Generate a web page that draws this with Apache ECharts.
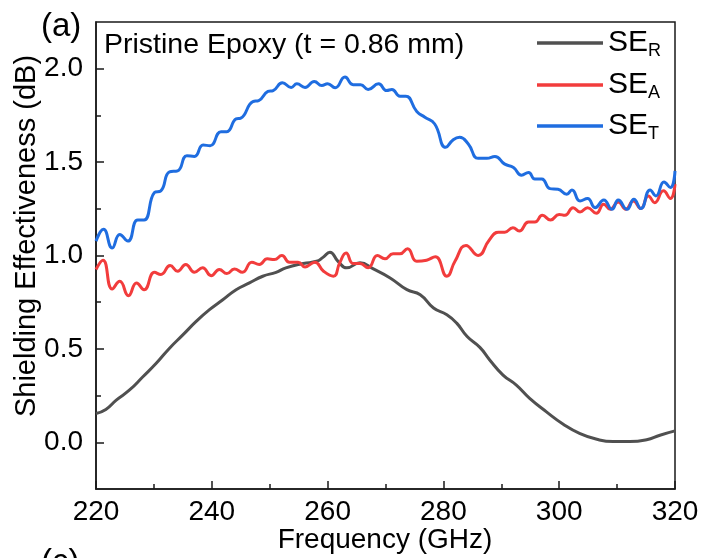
<!DOCTYPE html>
<html>
<head>
<meta charset="utf-8">
<script src="https://cdn.jsdelivr.net/npm/echarts@6/dist/echarts.min.js"></script>
<style>
html,body{margin:0;padding:0;background:#fff;}
#chart{width:702px;height:558px;}
</style>
</head>
<body>
<div id="chart"></div>
<script>
// ---- data ----
const freqR = [220,221.7,223.5,225.8,228.1,230.4,232.7,235,237.3,239.6,241.9,244.2,246.5,248.8,251.1,252.8,255.8,258.1,259.2,260.4,261.8,263.3,265.6,267.9,270.8,273.7,276,278.3,280.6,282.3,284.1,286.3,288,290.3,292.6,294.9,297.8,300.7,303.6,306.5,309.3,312.2,315.1,317.4,320];
const seR = [0.154,0.176,0.226,0.280,0.351,0.423,0.504,0.575,0.647,0.710,0.763,0.817,0.853,0.889,0.910,0.934,0.957,0.969,0.99,1.018,0.969,0.934,0.961,0.928,0.880,0.817,0.790,0.719,0.683,0.638,0.566,0.508,0.441,0.360,0.306,0.235,0.163,0.097,0.047,0.016,0.004,0.004,0.014,0.038,0.061];

const freqA = [220,221.2,222.8,224.1,225.6,227,228.3,230.1,231.2,232.8,234.1,235.5,237,238.4,239.9,241.3,242.6,243.9,245.3,246.9,248.2,249.6,250.8,252.1,253.4,254.9,256.1,257.8,259.3,261,262.1,263.2,264.4,265.6,267,268.6,269.9,271.3,272.5,273.8,275.4,277.1,278.6,280.6,282,283.9,286,287.9,289.5,290.6,292,293.1,294.7,295.8,297.1,298.5,300,301,302.4,303.6,304.9,306.4,307.7,308.8,310.2,311.5,312.8,314.1,315.4,316.5,318,319.2,320];
const seA = [0.925,0.975,0.821,0.862,0.785,0.853,0.817,0.910,0.898,0.946,0.916,0.952,0.910,0.934,0.892,0.925,0.903,0.928,0.910,0.964,0.952,0.982,0.978,1.0,0.964,0.964,0.939,0.964,0.916,0.889,0.961,1.014,0.957,0.957,0.934,1.0,0.982,1.009,1.009,1.036,0.969,0.975,0.993,0.889,0.969,1.054,1.0,1.082,1.125,1.125,1.149,1.131,1.179,1.179,1.215,1.190,1.220,1.215,1.256,1.233,1.256,1.226,1.274,1.247,1.287,1.247,1.292,1.251,1.319,1.283,1.346,1.305,1.382];

const freqT = [220,221.3,222.8,224.1,225.5,227.2,228.3,230.1,231.2,232.7,234.1,235.7,237,238.5,239.7,241.6,242.6,244.2,245,247.1,248.1,249.7,250.6,252.2,253.7,254.7,256.1,257.7,259,260,261.3,263,264.4,265.7,267,268.8,270.2,271.1,272.5,273.5,275.4,276.8,278.5,280.4,281.7,282.8,284.3,286,287.5,288.9,290.6,292.1,293.5,294.7,295.8,297,298.4,299.8,301.3,302.2,303.6,304.9,306.2,307.7,309.1,310.2,311.7,312.9,314.1,315.7,316.7,318.1,319.2,320];
const seT = [1.077,1.14,1.04,1.113,1.077,1.19,1.19,1.337,1.346,1.448,1.453,1.534,1.530,1.591,1.588,1.663,1.663,1.731,1.735,1.824,1.829,1.878,1.883,1.925,1.90,1.919,1.90,1.932,1.910,1.919,1.898,1.955,1.914,1.914,1.889,1.919,1.883,1.889,1.853,1.853,1.771,1.740,1.704,1.579,1.620,1.633,1.597,1.520,1.52,1.530,1.489,1.471,1.430,1.444,1.409,1.41,1.358,1.355,1.328,1.351,1.292,1.305,1.256,1.297,1.247,1.297,1.247,1.301,1.251,1.351,1.319,1.394,1.364,1.453];

const seriesNames = ['SE_R','SE_A','SE_T'];
const seriesColors = ['#505050','#f23c3c','#1f6de0'];
const xTicks = {min:220, max:320, step:20};
const yTicks = {min:0, max:2, step:0.5};

const FONT = '"Liberation Sans", Arial, sans-serif';
const zip = (xs, ys) => xs.map((x,i)=>[x, ys[i]]);
const seriesData = [zip(freqR,seR), zip(freqA,seA), zip(freqT,seT)];

const chart = echarts.init(document.getElementById('chart'), null, {renderer:'canvas'});
const legendTops = [28, 70, 111];

const option = {
  animation:false,
  backgroundColor:'#fff',
  textStyle:{fontFamily:FONT},
  grid:[
    {left:96, right:27, top:22, bottom:69, show:true, borderColor:'#1a1a1a', borderWidth:1.5, backgroundColor:'transparent'},
    {left:96, right:27, top:68.7, bottom:115.7}
  ],
  xAxis:[
    {type:'value', gridIndex:0, min:xTicks.min, max:xTicks.max, interval:xTicks.step,
     axisLine:{show:true, onZero:false, lineStyle:{color:'#1a1a1a', width:1.5}},
     axisTick:{show:true, inside:true, length:8, lineStyle:{color:'#1a1a1a', width:1.5}},
     minorTick:{show:true, splitNumber:2, length:5, lineStyle:{color:'#1a1a1a', width:1.5}},
     axisLabel:{fontSize:28, color:'#000', margin:9, fontFamily:FONT},
     splitLine:{show:false}},
    {type:'value', gridIndex:1, min:xTicks.min, max:xTicks.max, show:false}
  ],
  yAxis:[
    {type:'value', gridIndex:0, min:-0.25, max:2.25,
     axisLine:{show:true, onZero:false, lineStyle:{color:'#1a1a1a', width:1.5}},
     axisTick:{show:false}, axisLabel:{show:false}, splitLine:{show:false}},
    {type:'value', gridIndex:1, min:yTicks.min, max:yTicks.max, interval:yTicks.step,
     axisLine:{show:false, onZero:false},
     axisTick:{show:true, inside:true, length:8, lineStyle:{color:'#1a1a1a', width:1.5}},
     minorTick:{show:true, splitNumber:2, length:5, lineStyle:{color:'#1a1a1a', width:1.5}},
     axisLabel:{fontSize:28, color:'#000', margin:13, fontFamily:FONT, formatter:v=>v.toFixed(1)},
     splitLine:{show:false}}
  ],
  legend: seriesNames.map((n,i)=>({
    data:[{name:n, icon:'rect'}], orient:'vertical', left:537, top:legendTops[i], padding:0,
    itemWidth:66, itemHeight:3.5, itemGap:0,
    formatter: name => '{m|SE}{s|' + name.split('_')[1] + '}',
    textStyle:{
      rich:{
        m:{fontSize:30, lineHeight:34, color:'#000', fontFamily:FONT},
        s:{fontSize:18, lineHeight:10, verticalAlign:'bottom', color:'#000', fontFamily:FONT}
      }
    }
  })),
  series: seriesNames.map((n,i)=>({
    name:n, type:'line', xAxisIndex:0, yAxisIndex:0,
    data:seriesData[i], symbol:'none', smooth:0.5,
    lineStyle:{color:seriesColors[i], width:3},
    itemStyle:{color:seriesColors[i]}
  })),
  graphic:[
    {type:'text', style:{x:41, y:27, text:'(a)', font:'33px '+FONT, fill:'#000', align:'left', verticalAlign:'middle'}},
    {type:'text', style:{x:41, y:563, text:'(c)', font:'33px '+FONT, fill:'#000', align:'left', verticalAlign:'middle'}},
    {type:'text', style:{x:104, y:45.5, text:'Pristine Epoxy (t = 0.86 mm)', font:'28.5px '+FONT, fill:'#000', align:'left', verticalAlign:'middle'}},
    {type:'text', style:{x:385, y:540, text:'Frequency (GHz)', font:'28px '+FONT, fill:'#000', align:'center', verticalAlign:'middle'}},
    {type:'text', x:27, y:236, rotation:Math.PI/2, style:{x:0, y:0, text:'Shielding Effectiveness (dB)', font:'29px '+FONT, fill:'#000', align:'center', verticalAlign:'middle'}}
  ]
};
chart.setOption(option);
</script>
</body>
</html>
